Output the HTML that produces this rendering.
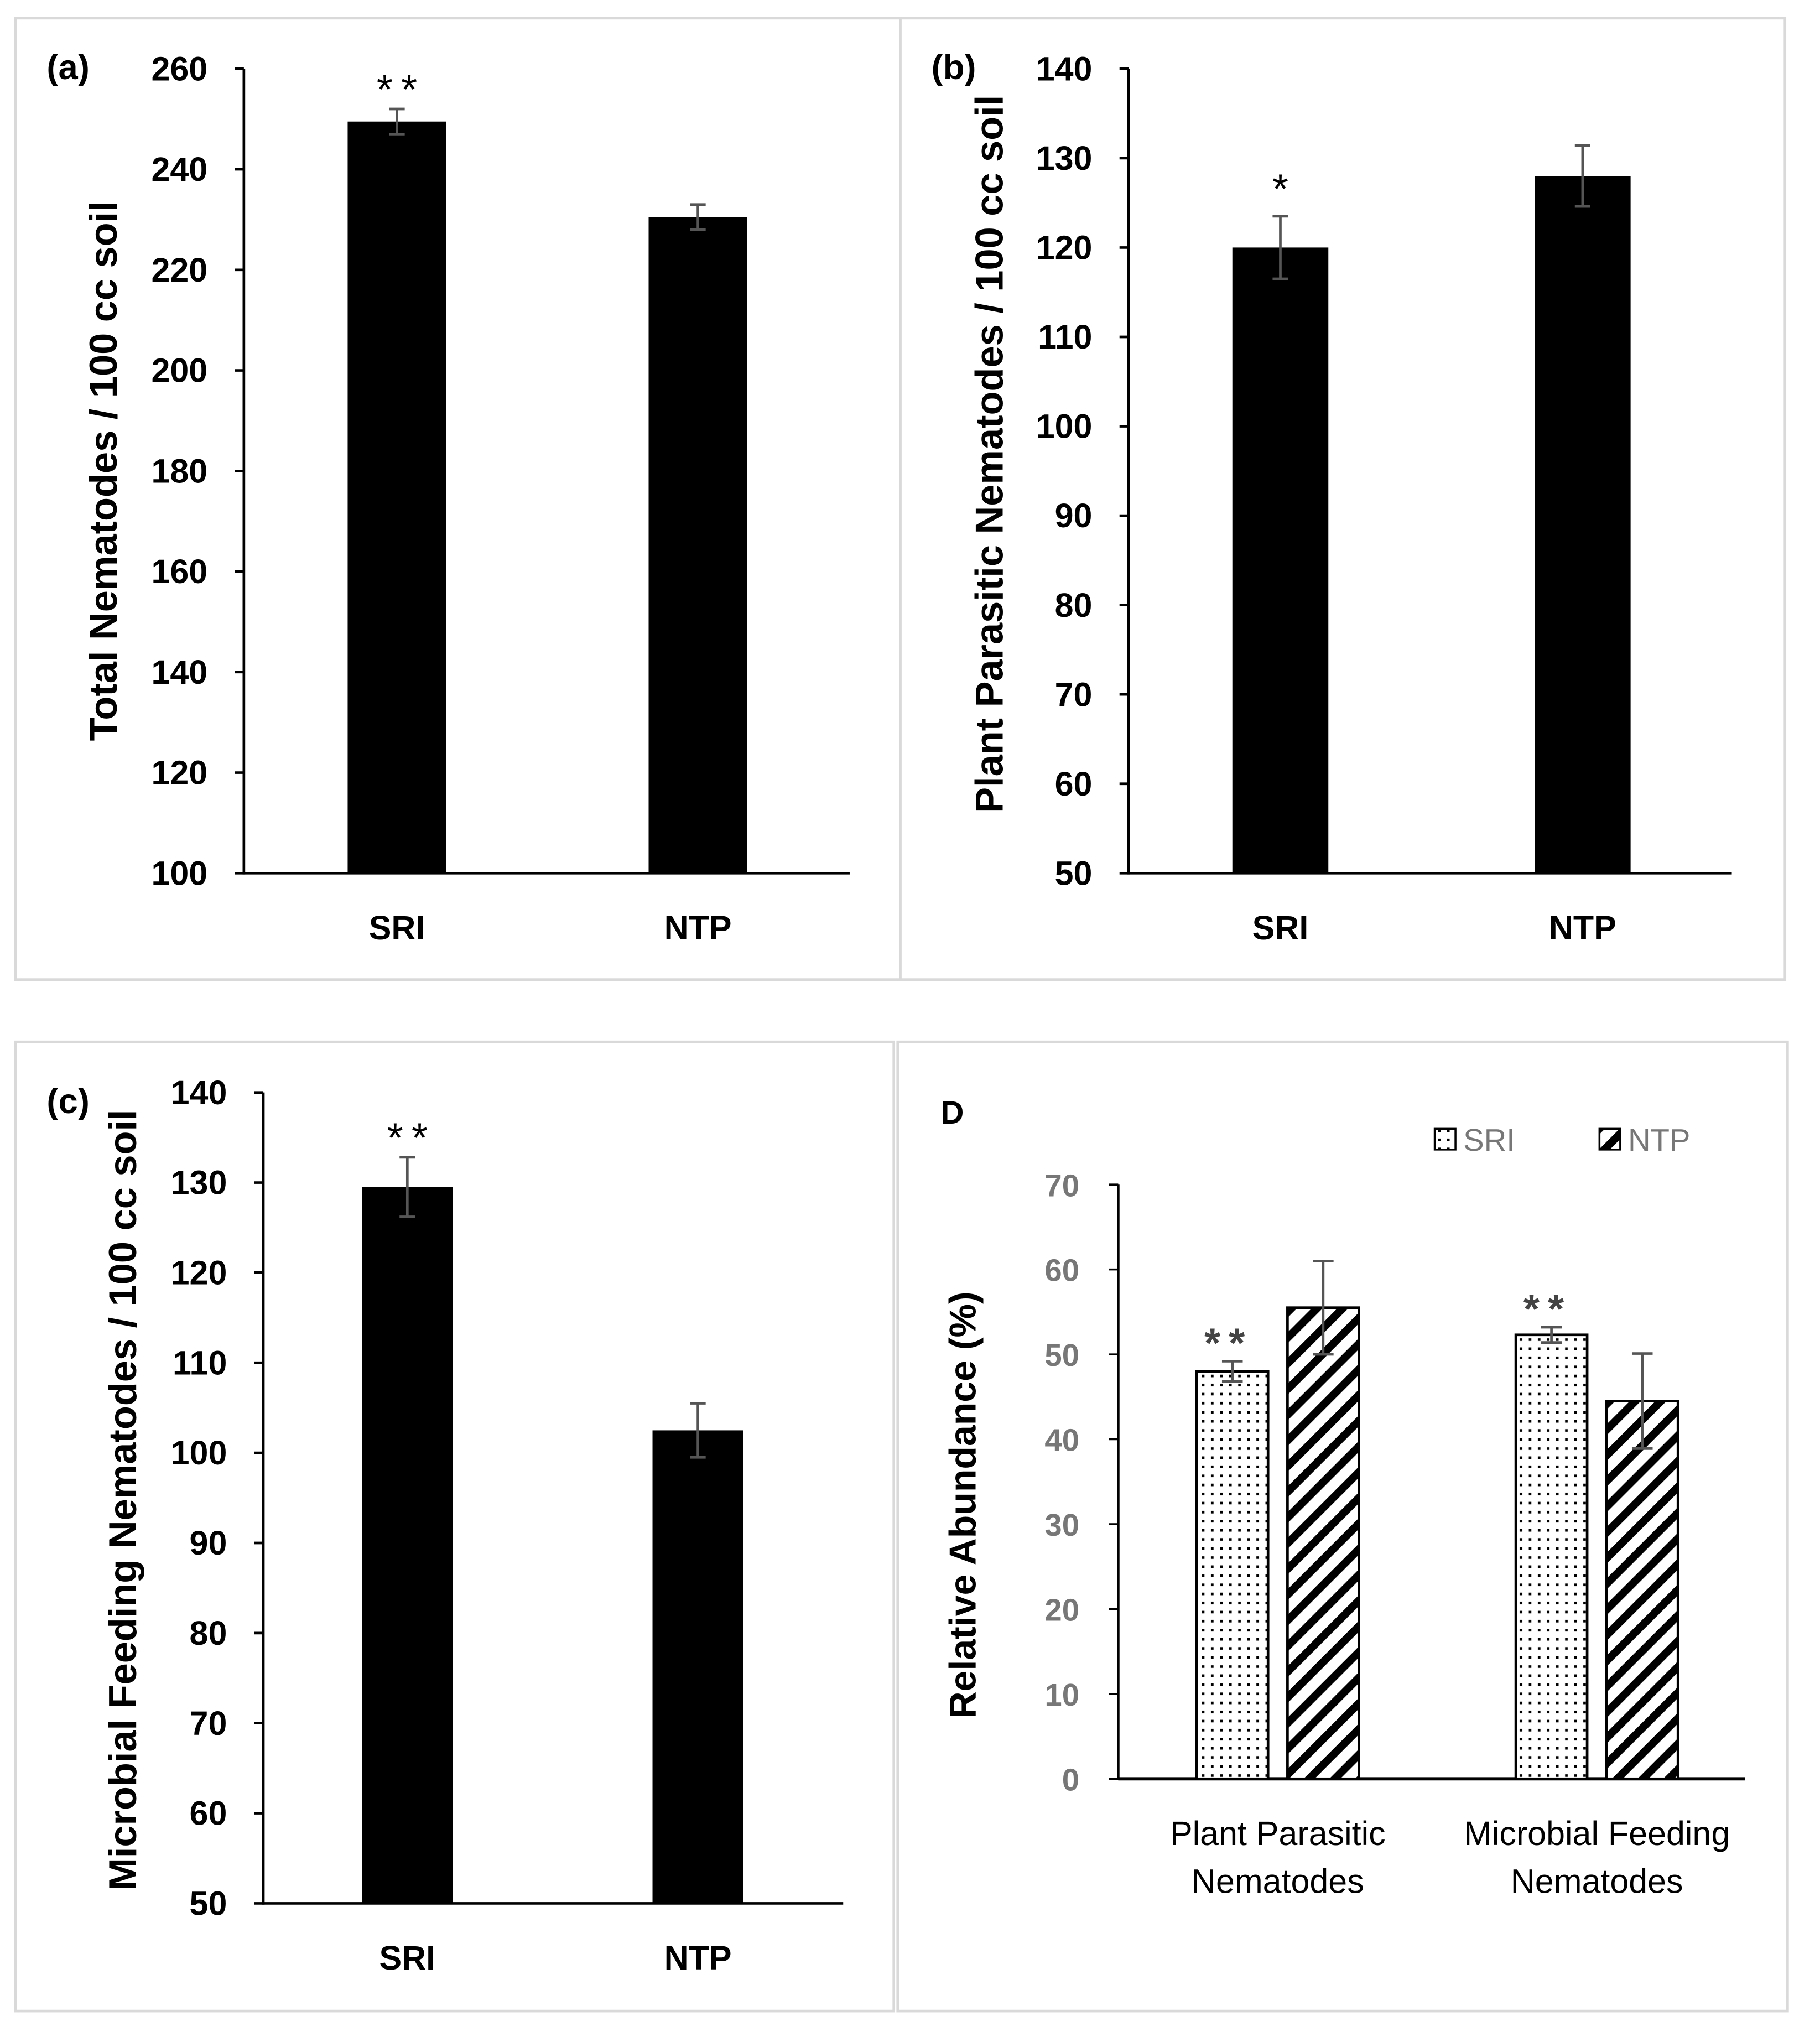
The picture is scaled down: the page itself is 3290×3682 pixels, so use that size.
<!DOCTYPE html>
<html><head><meta charset="utf-8"><style>
html,body{margin:0;padding:0;background:#fff;}
svg{display:block;}
text{font-family:"Liberation Sans",sans-serif;}
</style></head><body>
<svg id="fig" width="3290" height="3682" viewBox="0 0 1403 1570" preserveAspectRatio="none" xmlns="http://www.w3.org/2000/svg">
<defs>
<pattern id="dots" width="7" height="7" patternUnits="userSpaceOnUse"><rect width="7" height="7" fill="#fff"/><rect x="2.5" y="2.5" width="2" height="2" fill="#000"/></pattern>
<pattern id="hatch" width="14" height="14" patternUnits="userSpaceOnUse" patternTransform="rotate(45)"><rect width="14" height="14" fill="#fff"/><rect x="0" y="0" width="6" height="14" fill="#000"/></pattern>
</defs>
<rect x="12" y="14" width="682" height="741" fill="none" stroke="#d9d9d9" stroke-width="2"/>
<rect x="694" y="14" width="682" height="741" fill="none" stroke="#d9d9d9" stroke-width="2"/>
<rect x="12" y="803" width="677" height="747" fill="none" stroke="#d9d9d9" stroke-width="2"/>
<rect x="692" y="803" width="686" height="747" fill="none" stroke="#d9d9d9" stroke-width="2"/>
<g id="gA"></g>
<g id="gB"></g>
<g id="gC"></g>
<g id="gD"></g>
</svg>
<script>
// Panel (a)
const aCats = ["SRI","NTP"];
const aVals = [249.5, 230.5];
const aErr = [2.5, 2.5];
const aSig = ["**",""];
const aTicks = [100,120,140,160,180,200,220,240,260];
// Panel (b)
const bCats = ["SRI","NTP"];
const bVals = [120, 128];
const bErr = [3.5, 3.4];
const bSig = ["*",""];
const bTicks = [50,60,70,80,90,100,110,120,130,140];
// Panel (c)
const cCats = ["SRI","NTP"];
const cVals = [129.5, 102.5];
const cErr = [3.3, 3.0];
const cSig = ["**",""];
const cTicks = [50,60,70,80,90,100,110,120,130,140];
// Panel D
const dGroups = [["Plant Parasitic","Nematodes"],["Microbial Feeding","Nematodes"]];
const dSeries = ["SRI","NTP"];
const dSRI = [48, 52.3];
const dSRIerr = [1.2, 0.9];
const dNTP = [55.5, 44.5];
const dNTPerr = [5.5, 5.6];
const dSig = ["**","**"];
const dTicks = [0,10,20,30,40,50,60,70];

const NS="http://www.w3.org/2000/svg";
function mk(parent,tag,attrs,txt){const e=document.createElementNS(NS,tag);for(const k in attrs)e.setAttribute(k,attrs[k]);if(txt!==undefined)e.textContent=txt;parent.appendChild(e);return e;}

function simplePanel(g,cfg){
  const {x0,x1,yTop,yBot,min,max,ticks,cats,vals,err,sig,barCenters,barW,label,labelX,labelY,title,titleX,titleY}=cfg;
  const ys=v=>yBot-(v-min)/(max-min)*(yBot-yTop);
  const ax=mk(g,'line',{x1:x0,y1:yTop,x2:x0,y2:yBot+1,stroke:'#000','stroke-width':2});
  
  
  const xa=mk(g,'line',{x1:x0,y1:yBot,x2:x1,y2:yBot,stroke:'#000','stroke-width':2});
  
  
  ticks.forEach(t=>{
    const y=ys(t);
    const tk=mk(g,'line',{x1:x0-7,y1:y,x2:x0,y2:y,stroke:'#000','stroke-width':2});
    
    
    const tl=mk(g,'text',{x:x0-28,y:y+9,'text-anchor':'end','font-size':26,'font-weight':'bold'},t);
    
    
  });
  cats.forEach((c,i)=>{
    const cx=barCenters[i];
    const b=mk(g,'rect',{x:cx-barW/2,y:ys(vals[i]),width:barW,height:yBot-ys(vals[i]),fill:'#000'});
    
    
    const e1=ys(vals[i]+err[i]),e2=ys(vals[i]-err[i]);
    const eb=mk(g,'path',{d:`M${cx},${e1}V${e2}M${cx-6},${e1}H${cx+6}M${cx-6},${e2}H${cx+6}`,stroke:'#555','stroke-width':2,fill:'none'});
    
    
    if(sig[i]){const s=mk(g,'text',{x:cx,y:e1-(sig[i].length>1?4:10),'text-anchor':'middle','font-size':32},sig[i].split('').join('\u2009'));
      
      }
    const xl=mk(g,'text',{x:cx,y:yBot+51,'text-anchor':'middle','font-size':26,'font-weight':'bold'},c);
    
    
  });
  const yt=mk(g,'text',{x:0,y:0,transform:`translate(${labelX},${labelY}) rotate(-90)`,'text-anchor':'middle','font-size':30,'font-weight':'bold'},label);
  
  
  const pt=mk(g,'text',{x:titleX,y:titleY,'font-size':27,'font-weight':'bold'},title);
  
  
}

simplePanel(document.getElementById('gA'),{x0:188,x1:655,yTop:53,yBot:673,min:100,max:260,ticks:aTicks,cats:aCats,vals:aVals,err:aErr,sig:aSig,barCenters:[306,538],barW:76,label:"Total Nematodes / 100 cc soil",labelX:90,labelY:363,title:"(a)",titleX:36,titleY:61});
simplePanel(document.getElementById('gB'),{x0:870,x1:1335,yTop:53,yBot:673,min:50,max:140,ticks:bTicks,cats:bCats,vals:bVals,err:bErr,sig:bSig,barCenters:[987,1220],barW:74,label:"Plant Parasitic Nematodes / 100 cc soil",labelX:773,labelY:350,title:"(b)",titleX:718,titleY:61});
simplePanel(document.getElementById('gC'),{x0:203,x1:650,yTop:842,yBot:1467,min:50,max:140,ticks:cTicks,cats:cCats,vals:cVals,err:cErr,sig:cSig,barCenters:[314,538],barW:70,label:"Microbial Feeding Nematodes / 100 cc soil",labelX:105,labelY:1156,title:"(c)",titleX:36,titleY:858});

// Panel D
(function(){
  const g=document.getElementById('gD');
  const x0=862,x1=1345,yTop=913,yBot=1371,min=0,max=70;
  const ys=v=>yBot-(v-min)/(max-min)*(yBot-yTop);
  const ax=mk(g,'line',{x1:x0,y1:yTop,x2:x0,y2:yBot+1,stroke:'#000','stroke-width':2});
  
  
  const xa=mk(g,'line',{x1:x0,y1:yBot,x2:x1,y2:yBot,stroke:'#000','stroke-width':2.5});
  
  
  dTicks.forEach(t=>{
    const y=ys(t);
    const tk=mk(g,'line',{x1:x0-7,y1:y,x2:x0,y2:y,stroke:'#000','stroke-width':1.5});
    
    
    const tl=mk(g,'text',{x:x0-30,y:y+9,'text-anchor':'end','font-size':24,'font-weight':'bold',fill:'#777'},t);
    
    
  });
  const groupCenters=[985,1231];
  const bw=55;
  dGroups.forEach((gr,i)=>{
    const sets=[[dSRI,dSRIerr,'url(#dots)',-35,'sri'],[dNTP,dNTPerr,'url(#hatch)',35,'ntp']];
    sets.forEach(([v,e,fill,off,nm],j)=>{
      const cx=groupCenters[i]+off;
      const b=mk(g,'rect',{x:cx-bw/2,y:ys(v[i]),width:bw,height:yBot-ys(v[i]),fill:fill,stroke:'#000','stroke-width':2});
      
      
      const e1=ys(v[i]+e[i]),e2=ys(v[i]-e[i]);
      const eb=mk(g,'path',{d:`M${cx},${e1}V${e2}M${cx-8},${e1}H${cx+8}M${cx-8},${e2}H${cx+8}`,stroke:'#555','stroke-width':2,fill:'none'});
      
      
      if(j===0&&dSig[i]){const s=mk(g,'text',{x:cx-6,y:e1-3,'text-anchor':'middle','font-size':32,'font-weight':'bold',fill:'#444'},dSig[i].split('').join('\u2009'));
        
        }
    });
    gr.forEach((line,k)=>{
      const t=mk(g,'text',{x:groupCenters[i],y:1422+k*37,'text-anchor':'middle','font-size':26,fill:'#000'},line);
      
      
    });
  });
  const yt=mk(g,'text',{x:0,y:0,transform:`translate(752,1160) rotate(-90)`,'text-anchor':'middle','font-size':29,'font-weight':'bold'},"Relative Abundance (%)");
  
  
  const pt=mk(g,'text',{x:725,y:866,'font-size':25,'font-weight':'bold'},"D");
  
  
  const legX=[1106,1233],fills=['url(#dots)','url(#hatch)'];
  dSeries.forEach((s,i)=>{
    const sw=mk(g,'rect',{x:legX[i],y:870,width:16,height:16,fill:fills[i],stroke:'#000','stroke-width':1.5});
    
    
    const lt=mk(g,'text',{x:legX[i]+22,y:887,'font-size':24,fill:'#777'},s);
    
    
  });
})();
</script>
</body></html>
